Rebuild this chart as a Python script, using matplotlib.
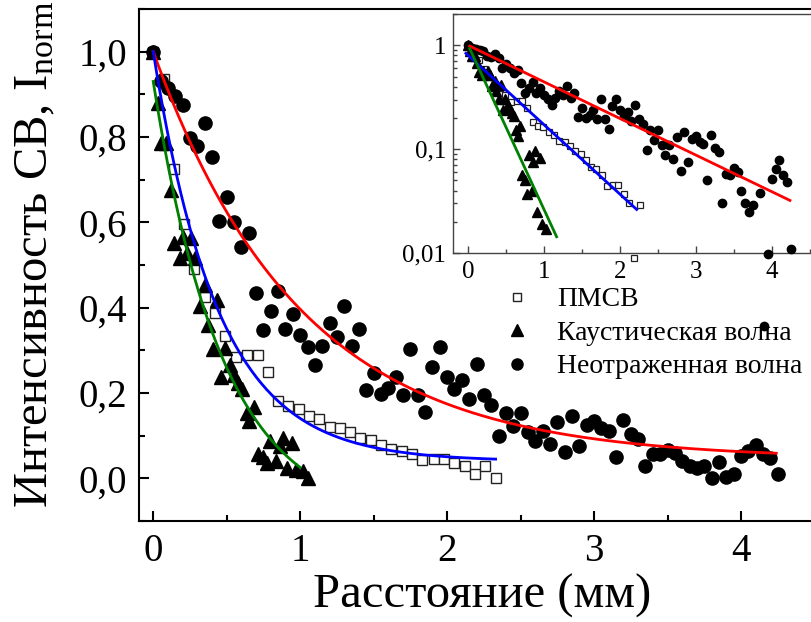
import numpy as np
import matplotlib
matplotlib.use("Agg")
import matplotlib.pyplot as plt
from matplotlib.lines import Line2D
from matplotlib.ticker import MultipleLocator, FixedLocator, FuncFormatter, LogLocator, NullFormatter

plt.rcParams['font.family'] = ['Liberation Serif', 'DejaVu Serif']
plt.rcParams['mathtext.fontset'] = 'custom'
plt.rcParams['mathtext.rm'] = 'Liberation Serif'
plt.rcParams['mathtext.it'] = 'Liberation Serif:italic'

# ПМСВ (squares)
pmsv_x = [0.00, 0.07, 0.14, 0.21, 0.28, 0.35, 0.42, 0.49, 0.56, 0.64, 0.71, 0.78,
          0.85, 0.92, 0.99, 1.06, 1.13, 1.20, 1.27, 1.34, 1.41, 1.48, 1.55, 1.62,
          1.69, 1.76, 1.83, 1.91, 1.98, 2.05, 2.12, 2.19, 2.26, 2.33]
pmsv_y = [1.000, 0.937, 0.724, 0.595, 0.491, 0.426, 0.388, 0.334, 0.285, 0.290, 0.290, 0.249,
          0.181, 0.169, 0.162, 0.145, 0.138, 0.121, 0.118, 0.108, 0.095, 0.090, 0.078, 0.068,
          0.064, 0.057, 0.044, 0.045, 0.045, 0.037, 0.030, 0.009, 0.029, 0.0]

# Каустическая волна (triangles)
caus_x = [0.00, 0.03, 0.05, 0.09, 0.12, 0.14, 0.18, 0.20, 0.23, 0.255, 0.285, 0.315,
          0.35, 0.37, 0.405, 0.435, 0.46, 0.49, 0.52, 0.55, 0.58, 0.605, 0.635, 0.655,
          0.685, 0.715, 0.75, 0.775, 0.795, 0.835, 0.86, 0.885, 0.91, 0.945, 0.975, 1.02, 1.055]
caus_y = [1.000, 0.880, 0.785, 0.785, 0.675, 0.551, 0.517, 0.566, 0.527, 0.563, 0.517, 0.404,
          0.453, 0.360, 0.303, 0.417, 0.238, 0.305, 0.266, 0.243, 0.224, 0.210, 0.152, 0.134,
          0.168, 0.056, 0.051, 0.037, 0.087, 0.040, 0.075, 0.095, 0.025, 0.082, 0.019, 0.017, 0.0]

# Неотраженная волна (circles)
direct_x = [0.00, 0.05, 0.10, 0.15, 0.20, 0.25, 0.30, 0.35, 0.40, 0.45, 0.50, 0.55, 0.60, 0.65,
            0.70, 0.75, 0.80, 0.85, 0.90, 0.95, 1.00, 1.05, 1.10, 1.15, 1.20, 1.25, 1.30, 1.35,
            1.40, 1.45, 1.50, 1.55, 1.60, 1.65, 1.70, 1.75, 1.80, 1.85, 1.90, 1.95, 2.00, 2.05,
            2.10, 2.15, 2.20, 2.25, 2.30, 2.35, 2.40, 2.45, 2.50, 2.55, 2.60, 2.65, 2.70, 2.75,
            2.80, 2.85, 2.90, 2.95, 3.00, 3.05, 3.10, 3.15, 3.20, 3.25, 3.30, 3.35, 3.40, 3.45,
            3.50, 3.55, 3.60, 3.65, 3.70, 3.75, 3.80, 3.85, 3.90, 3.95, 4.00, 4.05, 4.10, 4.15,
            4.20, 4.25]
direct_y = [1.000, 0.932, 0.915, 0.896, 0.874, 0.797, 0.779, 0.832, 0.754, 0.604, 0.659, 0.600,
            0.543, 0.576, 0.434, 0.347, 0.391, 0.440, 0.350, 0.386, 0.336, 0.307, 0.265, 0.311,
            0.365, 0.332, 0.405, 0.309, 0.350, 0.206, 0.247, 0.198, 0.212, 0.238, 0.195, 0.303,
            0.195, 0.155, 0.261, 0.307, 0.237, 0.210, 0.230, 0.186, 0.269, 0.196, 0.173, 0.099,
            0.152, 0.122, 0.154, 0.109, 0.087, 0.110, 0.081, 0.132, 0.062, 0.145, 0.075, 0.124,
            0.134, 0.118, 0.112, 0.051, 0.136, 0.103, 0.093, 0.030, 0.058, 0.056, 0.066, 0.060,
            0.040, 0.030, 0.025, 0.029, 0.0, 0.038, 0.002, 0.0098, 0.052, 0.064, 0.079, 0.056,
            0.048, 0.011]

labels = ['ПМСВ', 'Каустическая волна', 'Неотраженная волна']

# exponential fits: y = y0 + A*exp(-x/t), drawn over [x_start, x_end]
fit_main = {'red':   (0.045, 0.955, 1.000, 0.0, 4.24),
            'blue':  (0.040, 0.960, 0.443, 0.0, 2.33),
            'green': (-0.100, 1.030, 0.475, 0.0, 1.00)}
fit_inset = {'red':   (0.0, 1.00, 1.233, 0.02, 4.24),
             'blue':  (0.0, 0.80, 0.650, -0.03, 2.22),
             'green': (0.0, 1.00, 0.2745, 0.02, 1.165)}
fit_colors = {'red': '#ff0000', 'blue': '#0000ff', 'green': '#008000'}


def fit_curve(p):
    y0, a, t, x0, x1 = p
    xs = np.linspace(x0, x1, 200)
    return xs, y0 + a * np.exp(-xs / t)


fig = plt.figure(figsize=(8.11, 6.22), dpi=100)
ax = fig.add_axes([0.1708, 0.1624, 0.8335, 0.8232])

ax.plot(pmsv_x, pmsv_y, 's', ms=7, mfc='white', mec='#222222', mew=1.0, zorder=3)
ax.plot(caus_x, caus_y, '^', ms=9.5, color='black', zorder=3)
ax.plot(direct_x, direct_y, 'o', ms=9.5, color='black', zorder=3)
for k, p in fit_main.items():
    xs, ys = fit_curve(p)
    ax.plot(xs, ys, color=fit_colors[k], lw=2, zorder=4)

ax.set_xlim(-0.1, 4.5)
ax.set_ylim(-0.1, 1.1)
ax.xaxis.set_major_locator(FixedLocator([0, 1, 2, 3, 4]))
ax.xaxis.set_minor_locator(MultipleLocator(0.5))
ax.yaxis.set_major_locator(FixedLocator([0, 0.2, 0.4, 0.6, 0.8, 1.0]))
ax.yaxis.set_minor_locator(MultipleLocator(0.1))
ax.yaxis.set_major_formatter(FuncFormatter(lambda v, pos: ('%.1f' % v).replace('.', ',')))
ax.tick_params(which='both', direction='in', width=1.5, top=False, right=False)
ax.tick_params(which='major', length=7, labelsize=28)
ax.tick_params(axis='x', which='major', pad=9)
ax.tick_params(axis='y', which='major', pad=8)
ax.tick_params(which='minor', length=4.5)
for s in ax.spines.values():
    s.set_linewidth(1.5)

ax.set_xlabel('Расстояние (мм)', fontsize=35)
ax.xaxis.set_label_coords(0.508, -0.103)
ax.set_ylabel('Интенсивность СВ, I$_{\\mathrm{norm}}$', fontsize=35)
ax.yaxis.label.set_va('center')
ax.yaxis.set_label_coords(-0.152, 0.52)

handles = [Line2D([], [], ls='none', marker='s', ms=6, mfc='white', mec='#222222', mew=1.0),
           Line2D([], [], ls='none', marker='^', ms=9, color='black'),
           Line2D([], [], ls='none', marker='o', ms=8, color='black')]
fig.legend(handles, labels, loc='upper left', bbox_to_anchor=(0.620, 0.5386),
           frameon=False, fontsize=20, handlelength=1.0, handletextpad=0.95,
           labelspacing=0.29, borderpad=0, borderaxespad=0)

# inset (log scale)
ins = fig.add_axes([0.5586, 0.5932, 0.4491, 0.3842])
ins.set_facecolor('white')
ins.plot(pmsv_x, pmsv_y, 's', ms=5, mfc='white', mec='#222222', mew=0.9, clip_on=False, zorder=3)
ins.plot(caus_x, caus_y, '^', ms=6.5, color='black', clip_on=False, zorder=3)
ins.plot(direct_x, direct_y, 'o', ms=6, color='black', clip_on=False, zorder=3)
for k, p in fit_inset.items():
    xs, ys = fit_curve(p)
    ins.plot(xs, ys, color=fit_colors[k], lw=2, zorder=4)
ins.set_yscale('log')
ins.set_xlim(-0.2, 4.6)
ins.set_ylim(0.01, 2)
ins.xaxis.set_major_locator(FixedLocator([0, 1, 2, 3, 4]))
ins.xaxis.set_minor_locator(MultipleLocator(0.5))
ins.yaxis.set_major_locator(FixedLocator([0.01, 0.1, 1]))
ins.yaxis.set_minor_locator(LogLocator(base=10, subs=np.arange(2, 10) * 1.0))
ins.yaxis.set_minor_formatter(NullFormatter())
ins.yaxis.set_major_formatter(FuncFormatter(lambda v, pos: {0.01: '0,01', 0.1: '0,1', 1: '1'}.get(round(v, 2), '')))
ins.tick_params(which='both', direction='in', width=1.0, top=False, right=False, color='#444444')
ins.tick_params(which='major', length=5, labelsize=18)
ins.tick_params(axis='x', which='major', pad=6)
ins.tick_params(axis='y', which='major', pad=5)
ins.tick_params(which='minor', length=3)
for s in ins.spines.values():
    s.set_linewidth(1.0)
    s.set_color('#444444')

fig.savefig('out.png', dpi=100)
